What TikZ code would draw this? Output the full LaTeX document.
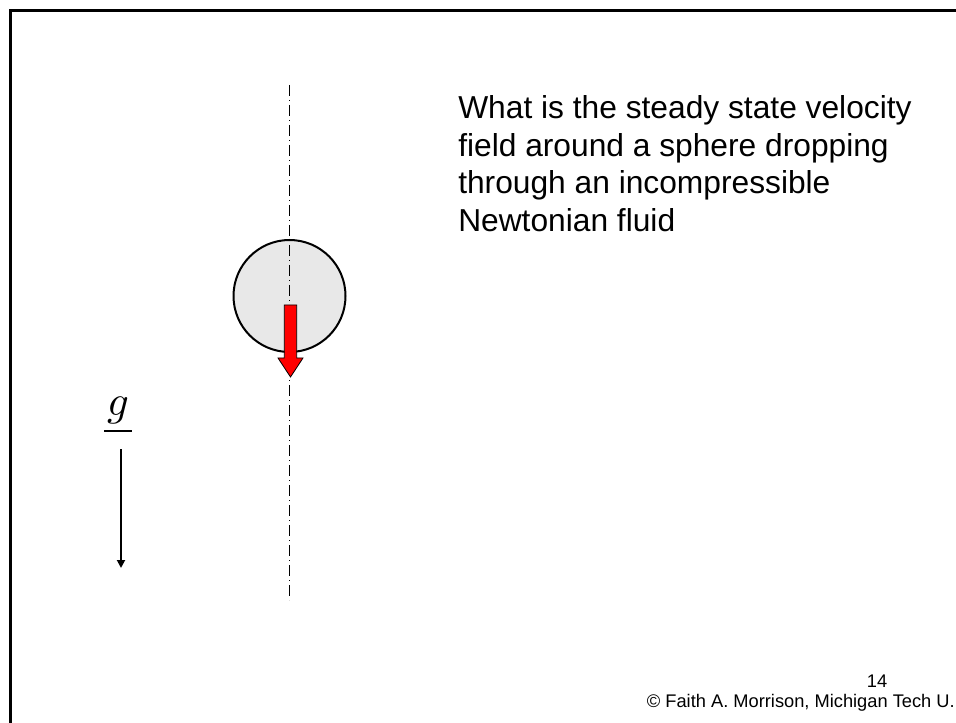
\documentclass[tikz,border=0pt]{standalone}
\usepackage{fontspec}
\setmainfont{Liberation Sans}
\usepackage{unicode-math}
\setmathfont{Latin Modern Math}
\usetikzlibrary{arrows.meta}
\definecolor{spheregray}{RGB}{232,232,232}
\tikzset{
  frameline/.style={line width=1.9pt},
  axisline/.style={line width=0.65pt, dash pattern=on 8.25pt off 3pt on 0.75pt off 3pt},
  sphere/.style={circle, draw, line width=1.5pt, fill=spheregray, minimum size=84pt, inner sep=0},
  bodytext/.style={anchor=base west, inner sep=0, font=\fontsize{23.8}{28}\selectfont},
  foot/.style={inner sep=0, font=\fontsize{13.7}{16}\selectfont},
  gravarrow/.style={line width=1.4pt, -{Triangle[length=6pt,width=6pt]}}
}
\begin{document}
\begin{tikzpicture}[x=0.75pt,y=-0.75pt]
\useasboundingbox (0,0) rectangle (956,723);
\fill[white] (0,0) rectangle (956,723);
% slide frame
\draw[frameline] (10.5,723) -- (10.5,10.5) -- (956,10.5);
% axis
\coordinate (axtop) at (289,85);
\coordinate (axbot) at (289,600);
\node[sphere] (sph) at (289.5,296) {};
\draw[axisline] (axtop) -- (axbot);
% red arrow
\draw[fill=red, line width=0.6pt] (284.3,305) -- (296.7,305) -- (296.7,358) -- (303,358)
  -- (290.5,377) -- (278,358) -- (284.3,358) -- cycle;
% gravity
\node[inner sep=0, anchor=base, font=\fontsize{32}{32}\selectfont] (g) at (118,415) {$g$};
\draw[line width=1.6pt] (104,431) -- (132,431);
\coordinate (gtop) at (121,449);
\coordinate (gbot) at (121,568);
\draw[gravarrow] (gtop) -- (gbot);
% text
\node[bodytext] (l1) at (458,119) {What is the steady state velocity};
\node[bodytext] (l2) at (458,156.5) {field around a sphere dropping};
\node[bodytext] (l3) at (458,194) {through an incompressible};
\node[bodytext] (l4) at (458,231.5) {Newtonian fluid};
% footer
\node[foot, anchor=base] (pg) at (877,687) {14};
\node[foot, anchor=base east] (cr) at (955,707) {© Faith A. Morrison, Michigan Tech U.};
\end{tikzpicture}
\end{document}
